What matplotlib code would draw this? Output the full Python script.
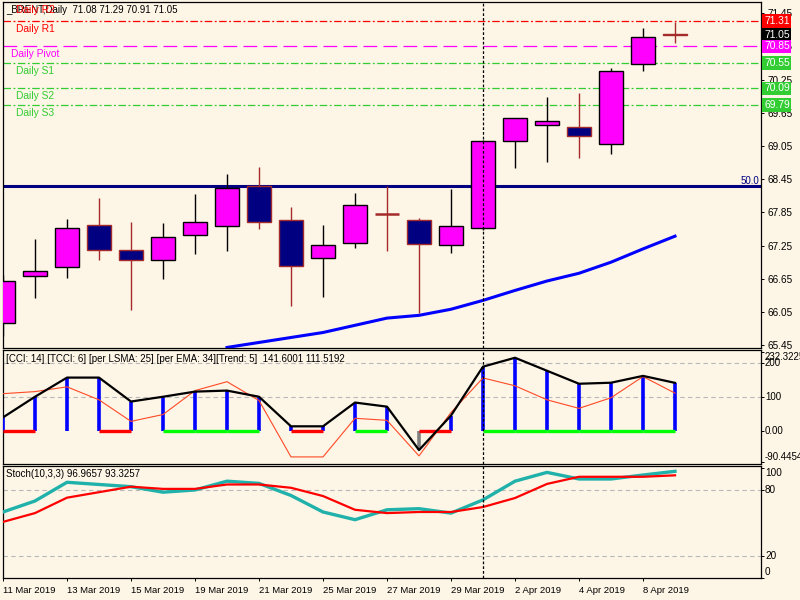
import matplotlib
matplotlib.use('Agg')
import matplotlib.pyplot as plt
from matplotlib.patches import Rectangle
import matplotlib.transforms as mtransforms
import numpy as np

# ---------------- data ----------------
symbol = "_BRENT,Daily"
dates = ['11 Mar 2019', '12 Mar 2019', '13 Mar 2019', '14 Mar 2019', '15 Mar 2019',
         '18 Mar 2019', '19 Mar 2019', '20 Mar 2019', '21 Mar 2019', '22 Mar 2019',
         '25 Mar 2019', '26 Mar 2019', '27 Mar 2019', '28 Mar 2019', '29 Mar 2019',
         '1 Apr 2019', '2 Apr 2019', '3 Apr 2019', '4 Apr 2019', '5 Apr 2019',
         '8 Apr 2019', '9 Apr 2019']
open_ = [65.86, 66.70, 66.86, 67.62, 67.17, 66.99, 67.44, 67.60, 68.32, 67.71, 67.02,
         67.29, 67.82, 67.71, 67.26, 67.56, 69.14, 69.43, 69.39, 69.08, 70.53, 71.08]
high = [66.71, 67.37, 67.73, 68.11, 67.67, 67.65, 68.18, 68.54, 68.67, 67.94, 67.62,
        68.20, 68.32, 67.74, 68.27, 69.16, 69.55, 69.93, 70.00, 70.46, 71.18, 71.29]
low = [65.61, 66.30, 66.66, 66.99, 66.08, 66.64, 67.09, 67.15, 67.55, 66.15, 66.32,
       67.20, 67.15, 66.03, 67.11, 67.54, 68.65, 68.76, 68.83, 68.90, 70.40, 70.91]
close = [66.61, 66.79, 67.56, 67.17, 66.99, 67.40, 67.67, 68.29, 67.67, 66.89, 67.26,
         67.98, 67.82, 67.27, 67.60, 69.14, 69.55, 69.50, 69.23, 70.40, 71.02, 71.05]
ma_line = [np.nan] * 7 + [65.41, 65.50, 65.59, 65.68, 65.81, 65.94, 65.99, 66.10,
                          66.26, 66.44, 66.61, 66.75, 66.95, 67.19, 67.42]
level_50 = 68.33
pivot_names = ['Daily R1', 'Daily Pivot', 'Daily S1', 'Daily S2', 'Daily S3']
pivot_values = [71.31, 70.85, 70.55, 70.09, 69.79]
price_ticks = [65.45, 66.05, 66.65, 67.25, 67.85, 68.45, 69.05, 69.65, 70.25, 70.85, 71.45]

cci = [40.6, 101, 157, 157, 87, 101, 116, 119, 101, 14.5, 14.5, 84, 72, -55, 46,
       189, 215, 177, 139, 142, 162, 141.6001]
tcci = [110, 116, 130, 92, 29, 49, 119, 145, 90, -75, -75, 38, 32, -72, 55,
        156, 133, 92, 67, 98, 160, 111.5192]
trend = [-1, -1, 0, -1, -1, 1, 1, 1, 1, -1, -1, 1, 1, -1, -1, 1, 1, 1, 1, 1, 1, 1]
cci_max, cci_min = 232.3225, -90.4454

stoch_k = [60, 70, 87, 85, 83, 78, 80, 88, 86, 75, 60, 53, 62, 63, 59, 71, 88, 96,
           90, 90, 93.6, 96.9657]
stoch_d = [51, 59, 73, 78, 83, 81, 81, 85, 85, 82, 74.5, 62, 59, 60, 60, 64.5, 72.7,
           85.5, 92, 92, 92, 93.3257]

# ---------------- style ----------------
BG = '#FDF5E6'
FS = 7.0
plt.rcParams['font.family'] = ['Liberation Sans', 'DejaVu Sans']
plt.rcParams['font.size'] = FS

W, H = 800, 600
fig = plt.figure(figsize=(8, 6), dpi=100)
fig.patch.set_facecolor(BG)


def px_axes(x0, y0, x1, y1):
    a = fig.add_axes([x0 / W, 1 - y1 / H, (x1 - x0) / W, (y1 - y0) / H])
    a.set_facecolor(BG)
    for s in a.spines.values():
        s.set_linewidth(0.9)
        s.set_color('black')
    return a


ax = px_axes(3, 2, 761, 348)
ax1 = px_axes(3, 350, 761, 464)
ax2 = px_axes(3, 466, 761, 578)

n = len(dates)
x = np.arange(n)
XR = (761 - 3) / 32.0
for a in (ax, ax1, ax2):
    a.set_xlim(0, XR)
    a.set_xticks([])
    a.yaxis.tick_right()
    a.tick_params(axis='y', direction='out', length=2.5, width=0.7, pad=2.0,
                  labelsize=FS + 0.2, colors='black')

# ---------------- main price panel ----------------
ax.set_ylim(65.40, 71.65)
ax.set_yticks(price_ticks)
ax.set_yticklabels([f'{v:.2f}' for v in price_ticks])

# pivot lines
piv_colors = ['#FF0000', '#FF00FF', '#32CD32', '#32CD32', '#32CD32']
piv_styles = [(0, (6, 2, 1.5, 2)), (0, (11, 5)), (0, (6, 2, 1.5, 2)),
              (0, (6, 2, 1.5, 2)), (0, (6, 2, 1.5, 2))]
piv_lx = [16, 11, 16, 16, 16]
for name, val, col, ls, lx in zip(pivot_names, pivot_values, piv_colors, piv_styles, piv_lx):
    ax.axhline(val, color=col, lw=0.9, ls=ls, zorder=1)
    tr = mtransforms.offset_copy(
        mtransforms.blended_transform_factory(ax.transAxes, ax.transData),
        fig=fig, x=0, y=-8, units='dots')
    ax.text((lx - 3) / 758, val, name, color=col, transform=tr, va='center',
            ha='left', fontsize=FS + 0.4, zorder=6)

# level line 50.0
ax.axhline(level_50, color='#000080', lw=2.2, zorder=2)
ax.text(0.9975, level_50, '50.0', color='#000080', ha='right', va='bottom',
        transform=mtransforms.blended_transform_factory(ax.transAxes, ax.transData),
        fontsize=FS, zorder=6)

# moving average line
ax.plot(x, ma_line, color='#0000FF', lw=2.2, zorder=3)

# candles
BODY = 0.75
for i in range(n):
    o, h, l, c = open_[i], high[i], low[i], close[i]
    bull = c > o
    ec = 'black' if bull else '#A52A2A'
    fc = '#FF00FF' if bull else '#000080'
    ax.vlines(i, l, h, color=ec, lw=1.0, zorder=4)
    if abs(c - o) < 1e-9:
        ax.hlines(o, i - BODY / 2, i + BODY / 2, color=ec, lw=1.8, zorder=5)
    else:
        ax.add_patch(Rectangle((i - BODY / 2, min(o, c)), BODY, abs(c - o),
                               facecolor=fc, edgecolor=ec, lw=1.0, zorder=5))

# right side price boxes
btr = mtransforms.blended_transform_factory(ax.transAxes, ax.transData)
box_vals = [pivot_values[0], close[-1]] + pivot_values[1:]
box_cols = ['#FF0000', '#000000', '#FF00FF', '#32CD32', '#32CD32', '#32CD32']
for v, col in zip(box_vals, box_cols):
    ax.text(1.0 + 3.0 / 758, v, f'{v:.2f}', color='white', ha='left', va='center',
            transform=btr, fontsize=FS + 0.4, clip_on=False, zorder=10,
            bbox=dict(boxstyle='square,pad=0.17', fc=col, ec='none'))

# titles
fig.text(6 / W, 1 - 10 / H, f"{symbol}  {open_[-1]:.2f} {high[-1]:.2f} {low[-1]:.2f} {close[-1]:.2f}",
         va='center', ha='left', fontsize=FS, color='black')
fig.text(16 / W, 1 - 10 / H, 'Daily R2', va='center', ha='left', fontsize=FS + 0.4,
         color='#FF0000')

# ---------------- CCI panel ----------------
ax1.set_ylim(-95.7, 237.7)
ax1.set_yticks([cci_min, 0, 100, 200, cci_max])
ax1.set_yticklabels([])
for lv in (100, 200):
    ax1.axhline(lv, color='#B8B8B8', lw=0.8, ls=(0, (4, 3)), zorder=1)
for i in range(n):
    col = '#0000FF' if cci[i] > 0 else '#808080'
    ax1.vlines(i, 0, cci[i], color=col, lw=2.6, zorder=3)
for i in range(n - 1):
    if trend[i] != 0 and trend[i] == trend[i + 1]:
        ax1.plot([i, i + 1], [0, 0], color='#00FF00' if trend[i] > 0 else '#FF0000',
                 lw=2.4, solid_capstyle='butt', zorder=4)
ax1.plot(x, tcci, color='#FF4A26', lw=0.8, zorder=5)
ax1.plot(x, cci, color='black', lw=1.6, zorder=6)
ctr = mtransforms.blended_transform_factory(ax1.transAxes, ax1.transData)
for val, lab, dy in [(cci_max, f'{cci_max:.4f}', -5), (200, '200', 0), (100, '100', 0),
                     (0, '0.00', 0), (cci_min, f'{cci_min:.4f}', 5)]:
    t = mtransforms.offset_copy(ctr, fig=fig, x=0, y=dy, units='dots')
    ax1.text(1.0 + 4.0 / 758, val, lab, transform=t, ha='left', va='center',
             fontsize=FS, clip_on=False)
fig.text(6 / W, 1 - 359 / H,
         f"[CCI: 14] [TCCI: 6] [per LSMA: 25] [per EMA: 34][Trend: 5]  {cci[-1]:.4f} {tcci[-1]:.4f}",
         va='center', ha='left', fontsize=FS)

# ---------------- Stochastic panel ----------------
ax2.set_ylim(0, 101.8)
ax2.set_yticks([0, 20, 80, 100])
ax2.set_yticklabels([])
for lv in (20, 80):
    ax2.axhline(lv, color='#B8B8B8', lw=0.8, ls=(0, (4, 3)), zorder=1)
ax2.plot(x, stoch_k, color='#20B2AA', lw=2.4, zorder=3)
ax2.plot(x, stoch_d, color='#FF0000', lw=1.6, zorder=4)
str_ = mtransforms.blended_transform_factory(ax2.transAxes, ax2.transData)
for val, lab, dy in [(100, '100', -5), (80, '80', 0), (20, '20', 0), (0, '0', 6)]:
    t = mtransforms.offset_copy(str_, fig=fig, x=0, y=dy, units='dots')
    ax2.text(1.0 + 4.0 / 758, val, lab, transform=t, ha='left', va='center',
             fontsize=FS + 0.2, clip_on=False)
fig.text(6 / W, 1 - 474 / H, f"Stoch(10,3,3) {stoch_k[-1]:.4f} {stoch_d[-1]:.4f}",
         va='center', ha='left', fontsize=FS)

# date axis
ax2.set_xticks(x[::2])
ax2.set_xticklabels(dates[::2], ha='left')
ax2.tick_params(axis='x', direction='out', length=2.5, width=0.7, pad=3.5,
                labelsize=FS - 0.2)

# vertical separator at 1 Apr
sep = dates.index('1 Apr 2019')
for a in (ax, ax1, ax2):
    a.axvline(sep, color='black', lw=0.9, ls=(0, (2.2, 1.6)), zorder=7)

fig.savefig('out.png', dpi=100, facecolor=BG)
